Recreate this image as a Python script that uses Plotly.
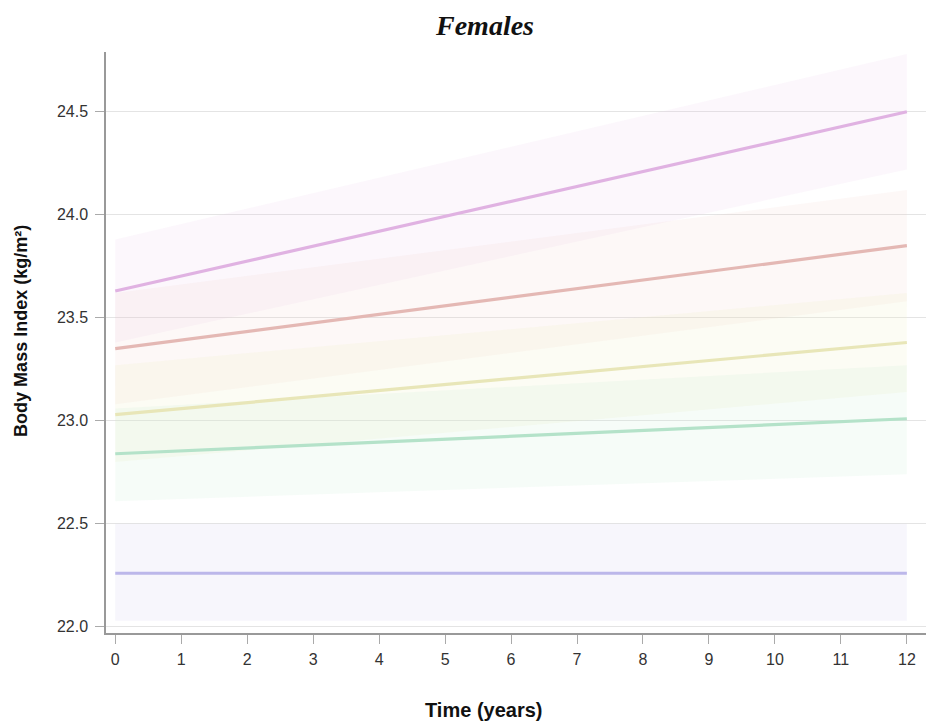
import plotly.graph_objects as go

time = [0, 12]
groups = ["G1", "G2", "G3", "G4", "G5"]
mean_vals = [
    [23.63, 24.50],
    [23.35, 23.85],
    [23.03, 23.38],
    [22.84, 23.01],
    [22.26, 22.26],
]
upper_vals = [
    [23.88, 24.78],
    [23.62, 24.12],
    [23.27, 23.62],
    [23.06, 23.27],
    [22.50, 22.50],
]
lower_vals = [
    [23.38, 24.22],
    [23.08, 23.58],
    [22.80, 23.14],
    [22.61, 22.74],
    [22.03, 22.03],
]
line_colors = ["#e0b2e2", "#e4b8b4", "#e8e6b8", "#b4e2c9", "#bcb7ea"]
fill_colors = ["rgba(235,195,235,0.14)", "rgba(240,200,195,0.13)",
               "rgba(238,238,195,0.18)", "rgba(195,235,210,0.15)",
               "rgba(210,205,240,0.18)"]

x_ticks = list(range(0, 13))
y_ticks = [22.0, 22.5, 23.0, 23.5, 24.0, 24.5]

fig = go.Figure()
for i, g in enumerate(groups):
    fig.add_trace(go.Scatter(x=time, y=upper_vals[i], mode="lines",
                             line=dict(width=0), showlegend=False, hoverinfo="skip"))
    fig.add_trace(go.Scatter(x=time, y=lower_vals[i], mode="lines",
                             line=dict(width=0), fill="tonexty",
                             fillcolor=fill_colors[i], showlegend=False, hoverinfo="skip"))
for i, g in enumerate(groups):
    fig.add_trace(go.Scatter(x=time, y=mean_vals[i], mode="lines", name=g,
                             line=dict(color=line_colors[i], width=3.2), showlegend=False))

fig.update_layout(
    width=926, height=726,
    margin=dict(l=106, r=0, t=52, b=93),
    plot_bgcolor="white", paper_bgcolor="white",
    font=dict(family="Liberation Sans, Arial", color="#333"),
    showlegend=False,
    annotations=[
        dict(text="<b><i>Females</i></b>", x=0.462, y=1.0, xref="paper", yref="paper",
             yshift=27, showarrow=False, xanchor="center", yanchor="middle",
             font=dict(family="Liberation Serif, Times New Roman", size=28, color="#111")),
        dict(text="<b>Time (years)</b>", x=0.46, y=0, xref="paper", yref="paper",
             yshift=-77, showarrow=False, xanchor="center", yanchor="middle",
             font=dict(size=20, color="#111")),
        dict(text="<b>Body Mass Index (kg/m²)</b>", x=0, y=0.52, xref="paper", yref="paper",
             xshift=-85, showarrow=False, textangle=-90, xanchor="center", yanchor="middle",
             font=dict(size=18, color="#111")),
    ],
)
fig.update_xaxes(range=[-0.14, 12.29], tickvals=x_ticks, ticktext=[str(v) for v in x_ticks],
                 showgrid=False, zeroline=False, showline=True, linecolor="#999",
                 linewidth=1.5, ticks="outside", ticklen=9, tickcolor="#aaa",
                 ticklabelstandoff=2, tickfont=dict(size=16, color="#333"))
fig.update_yaxes(range=[21.97, 24.79], tickvals=y_ticks, ticktext=[f"{v:.1f}" for v in y_ticks],
                 showgrid=True, gridcolor="#e4e4e4", gridwidth=1, zeroline=False,
                 showline=True, linecolor="#999", linewidth=1.5, ticks="outside",
                 ticklen=9, tickcolor="#aaa", ticklabelstandoff=4,
                 tickfont=dict(size=16, color="#333"))

fig.write_html("out.html")
